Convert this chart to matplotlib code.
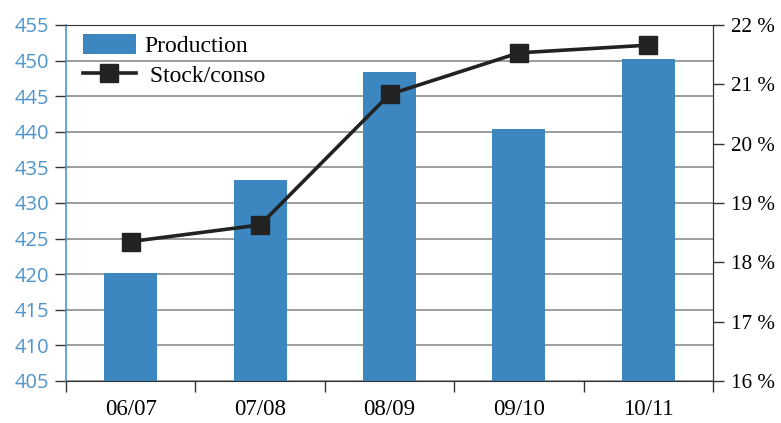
import numpy as np
import matplotlib.pyplot as plt

# Data
campagnes = ['06/07', '07/08', '08/09', '09/10', '10/11']
production = [420.2, 433.2, 448.4, 440.4, 450.2]
stock_conso = [18.35, 18.63, 20.83, 21.53, 21.66]

bar_color = '#3c87bf'
tick_blue = '#4f95cc'

fig = plt.figure(figsize=(7.81, 4.23), dpi=100)
ax = fig.add_axes([0.0845, 0.0993, 0.8285, 0.8417])

x = np.arange(len(campagnes))
ax.bar(x, production, width=0.41, color=bar_color, label='Production', zorder=2)
ax.set_ylim(405, 455)
ax.set_xlim(-0.5, len(campagnes) - 0.5)
ax.set_yticks(np.arange(405, 456, 5))
ax.yaxis.grid(True, color='#8c8c8c', linewidth=1.2, zorder=0)
ax.set_axisbelow(True)

# category ticks at boundaries, labels centred
ax.set_xticks(np.arange(-0.5, len(campagnes)), minor=False)
ax.set_xticklabels([])
ax.set_xticks(x, minor=True)
ax.set_xticklabels(campagnes, minor=True, family='Liberation Serif', fontsize=16.5)
ax.tick_params(axis='x', which='major', length=8, width=1, color='#333333', direction='out')
ax.tick_params(axis='x', which='minor', length=0, pad=13)

ax.tick_params(axis='y', length=8, width=1, color='#333333', labelcolor=tick_blue,
               labelsize=14.5, pad=4)
for lab in ax.get_yticklabels():
    lab.set_family('Open Sans')

ax.spines['left'].set_color(tick_blue)
ax.spines['left'].set_linewidth(1.2)
ax.spines['bottom'].set_color('#333333')
ax.spines['top'].set_color('#333333')
ax.spines['right'].set_color('#333333')

ax2 = ax.twinx()
ax2.plot(x, stock_conso, color='#222222', linewidth=2.6, marker='s', markersize=13.5,
         markerfacecolor='#222222', label=' Stock/conso', zorder=3)
ax2.set_ylim(16, 22)
ax2.set_yticks(np.arange(16, 23, 1))
ax2.set_yticklabels(['%d %%' % v for v in range(16, 23)], family='Liberation Serif', fontsize=15.2)
ax2.tick_params(axis='y', length=8, width=1, color='#333333', pad=5)
for s in ['left', 'top', 'bottom']:
    ax2.spines[s].set_visible(False)
ax2.spines['right'].set_color('#333333')

h1, l1 = ax.get_legend_handles_labels()
h2, l2 = ax2.get_legend_handles_labels()
leg = ax.legend(h1 + h2, l1 + l2, loc='upper left', bbox_to_anchor=(0.0, 1.02),
                frameon=False, prop={'family': 'Liberation Serif', 'size': 17},
                handlelength=2.25, handleheight=0.9, labelspacing=0.3,
                handletextpad=0.35, borderaxespad=0.3)
leg.set_zorder(5)

fig.savefig('out.png', dpi=100)
